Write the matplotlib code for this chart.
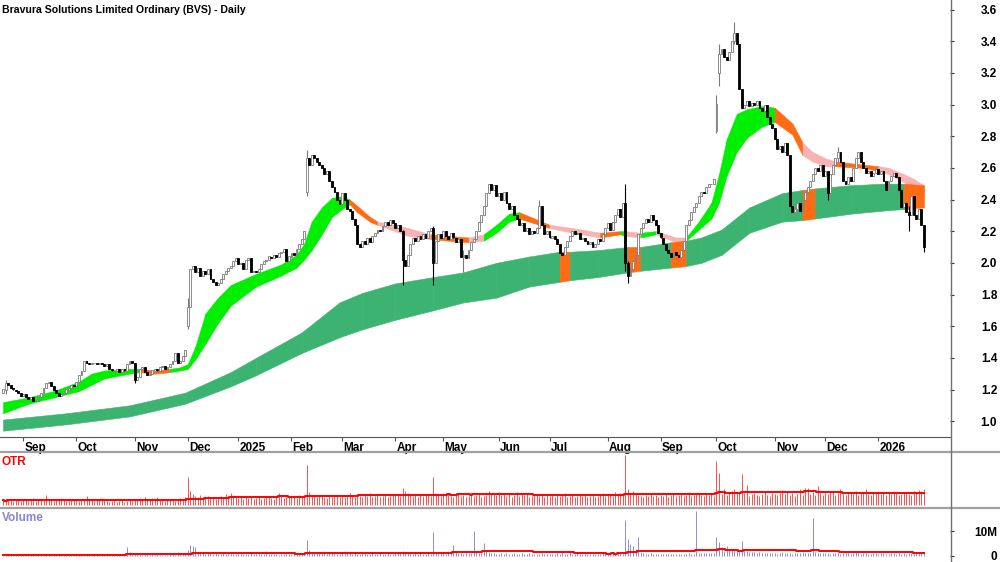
import numpy as np
import pandas as pd
import matplotlib
matplotlib.use("Agg")
import matplotlib.pyplot as plt
from matplotlib.lines import Line2D
from matplotlib.transforms import blended_transform_factory

plt.rcParams['font.family'] = ['Liberation Sans Narrow', 'Liberation Sans', 'DejaVu Sans']
plt.rcParams['font.weight'] = 'bold'

# months on the time axis and trading days in each (first one is a partial month)
months = ["Aug", "Sep", "Oct", "Nov", "Dec", "2025", "Feb", "Mar", "Apr", "May", "Jun",
          "Jul", "Aug", "Sep", "Oct", "Nov", "Dec", "2026"]
month_days = [8, 21, 23, 21, 20, 21, 20, 21, 19, 22, 20, 23, 21, 22, 23, 20, 21, 19]

# daily closes
closes = [
    1.20, 1.24, 1.23, 1.21, 1.20, 1.19, 1.18, 1.16, 1.17, 1.15,
    1.14, 1.15, 1.13, 1.13, 1.15, 1.18, 1.21, 1.24, 1.25, 1.22,
    1.20, 1.18, 1.16, 1.17, 1.18, 1.20, 1.21, 1.23, 1.22, 1.25,
    1.29, 1.32, 1.38, 1.37, 1.36, 1.37, 1.37, 1.36, 1.37, 1.36,
    1.35, 1.36, 1.33, 1.32, 1.32, 1.33, 1.31, 1.33, 1.32, 1.36,
    1.38, 1.37, 1.26, 1.28, 1.33, 1.34, 1.31, 1.29, 1.30, 1.32,
    1.33, 1.32, 1.34, 1.35, 1.33, 1.34, 1.36, 1.38, 1.43, 1.37,
    1.38, 1.41, 1.45, 1.72, 1.96, 1.98, 1.94, 1.97, 1.92, 1.95,
    1.93, 1.96, 1.90, 1.88, 1.86, 1.87, 1.90, 1.93, 1.95, 1.97,
    1.98, 2.01, 2.03, 1.99, 2.00, 1.96, 2.02, 2.03, 1.94, 1.95,
    1.94, 1.96, 1.99, 2.01, 2.02, 2.04, 2.03, 2.05, 2.04, 2.06,
    2.07, 2.09, 2.01, 2.04, 2.06, 2.05, 2.09, 2.12, 2.15, 2.20,
    2.66, 2.62, 2.68, 2.66, 2.64, 2.62, 2.60, 2.56, 2.58, 2.52,
    2.48, 2.45, 2.40, 2.37, 2.44, 2.40, 2.34, 2.33, 2.28, 2.24,
    2.12, 2.10, 2.14, 2.12, 2.16, 2.13, 2.17, 2.19, 2.21, 2.20,
    2.23, 2.26, 2.24, 2.27, 2.25, 2.22, 2.24, 2.20, 2.02, 1.98,
    2.05, 2.12, 2.16, 2.14, 2.17, 2.15, 2.18, 2.16, 2.20, 2.22,
    2.00, 2.14, 2.18, 2.16, 2.20, 2.17, 2.15, 2.19, 2.16, 2.13,
    2.15, 2.04, 2.05, 2.03, 2.08, 2.13, 2.15, 2.20, 2.26, 2.30,
    2.36, 2.44, 2.50, 2.46, 2.49, 2.42, 2.44, 2.40, 2.45, 2.38,
    2.34, 2.36, 2.30, 2.28, 2.24, 2.25, 2.20, 2.22, 2.18, 2.20,
    2.19, 2.22, 2.36, 2.24, 2.18, 2.20, 2.16, 2.17, 2.15, 2.12,
    2.06, 2.05, 2.10, 2.14, 2.17, 2.20, 2.18, 2.19, 2.15, 2.16,
    2.14, 2.12, 2.13, 2.10, 2.12, 2.15, 2.14, 2.18, 2.22, 2.25,
    2.21, 2.26, 2.30, 2.34, 2.29, 2.38, 2.00, 1.92, 1.96, 2.01,
    2.05, 2.18, 2.22, 2.25, 2.28, 2.26, 2.30, 2.27, 2.24, 2.19,
    2.16, 2.12, 2.08, 2.06, 2.04, 2.07, 2.05, 2.04, 2.08, 2.14,
    2.24, 2.27, 2.32, 2.35, 2.38, 2.42, 2.45, 2.44, 2.48, 2.50,
    2.50, 2.53, 3.00, 3.32, 3.35, 3.30, 3.28, 3.33, 3.40, 3.45,
    3.38, 3.10, 2.98, 3.00, 3.02, 2.99, 3.01, 3.00, 3.02, 2.98,
    2.96, 3.00, 2.92, 2.88, 2.85, 2.78, 2.72, 2.74, 2.70, 2.76,
    2.68, 2.36, 2.32, 2.34, 2.38, 2.33, 2.40, 2.45, 2.48, 2.52,
    2.56, 2.60, 2.58, 2.62, 2.55, 2.58, 2.44, 2.56, 2.62, 2.66,
    2.70, 2.64, 2.52, 2.50, 2.54, 2.52, 2.60, 2.66, 2.70, 2.64,
    2.60, 2.57, 2.58, 2.55, 2.57, 2.59, 2.56, 2.58, 2.52, 2.46,
    2.52, 2.55, 2.57, 2.54, 2.46, 2.35, 2.38, 2.32, 2.30, 2.42,
    2.30, 2.28, 2.34, 2.24, 2.10,
]
first_open = 1.18
# opens that gapped away from the previous close
gap_opens = {73: 1.60, 120: 2.45, 282: 2.83, 283: 3.20}
# notable wicks: day -> (high, low)
wicks = {1: (1.26, 1.17), 52: (1.37, 1.24), 73: (1.78, 1.58), 120: (2.71, 2.42),
         158: (2.21, 1.86), 170: (2.23, 1.86), 182: (2.08, 1.94), 212: (2.40, 2.22),
         246: (2.50, 1.95), 247: (2.01, 1.87), 282: (3.06, 2.82), 283: (3.38, 3.12),
         289: (3.52, 3.38), 326: (2.58, 2.40), 330: (2.73, 2.64), 358: (2.36, 2.20),
         364: (2.24, 2.07)}

# fast moving-average band: sample day, upper, lower, colour of the following stretch
fast_idx = [0, 10, 20, 30, 35, 40, 50, 54, 60, 66, 70, 73, 76, 80, 85, 90, 100, 110, 116,
            119, 122, 126, 130, 134, 137, 140, 145, 148, 155, 160, 169, 176, 184, 190, 195,
            200, 204, 210, 216, 225, 236, 244, 246, 252, 258, 266, 270, 275, 280, 283, 286,
            290, 294, 300, 305, 312, 316, 320, 325, 329, 340, 346, 350, 356, 360, 364]
fast_hi = [1.12, 1.15, 1.19, 1.25, 1.30, 1.32, 1.33, 1.33, 1.32, 1.33, 1.34, 1.36, 1.47,
           1.68, 1.78, 1.86, 1.93, 1.99, 2.05, 2.12, 2.26, 2.35, 2.41, 2.42, 2.40, 2.36,
           2.29, 2.26, 2.24, 2.22, 2.18, 2.17, 2.16, 2.18, 2.24, 2.31, 2.32, 2.28, 2.24,
           2.22, 2.19, 2.20, 2.20, 2.19, 2.20, 2.16, 2.16, 2.26, 2.38, 2.56, 2.78, 2.94,
           2.97, 2.99, 2.98, 2.88, 2.76, 2.70, 2.66, 2.64, 2.62, 2.61, 2.60, 2.56, 2.53, 2.49]
fast_lo = [1.05, 1.11, 1.15, 1.19, 1.23, 1.27, 1.30, 1.31, 1.30, 1.31, 1.32, 1.33, 1.39,
           1.49, 1.62, 1.73, 1.85, 1.92, 1.97, 2.02, 2.08, 2.18, 2.29, 2.34, 2.37, 2.32,
           2.26, 2.24, 2.20, 2.17, 2.15, 2.14, 2.13, 2.14, 2.19, 2.26, 2.28, 2.25, 2.22,
           2.19, 2.16, 2.18, 2.17, 2.16, 2.18, 2.13, 2.14, 2.21, 2.28, 2.38, 2.55, 2.70,
           2.79, 2.86, 2.89, 2.81, 2.68, 2.64, 2.61, 2.61, 2.60, 2.58, 2.56, 2.51, 2.46, 2.43]
fast_col = ("gggggggoog" "gggggggggg" "ggggoooppp" "oopgggoopp"
            "ogpgppgggg" "ggggoopppo" "opppp")

# slow moving-average band
slow_idx = [0, 25, 50, 72, 90, 100, 118, 133, 142, 155, 170, 182, 195, 208, 220, 224, 235,
            247, 252, 264, 270, 276, 284, 295, 308, 316, 321, 335, 348, 356, 364]
slow_hi = [1.01, 1.05, 1.10, 1.18, 1.31, 1.40, 1.56, 1.75, 1.81, 1.87, 1.91, 1.94, 2.00,
           2.04, 2.07, 2.07, 2.08, 2.10, 2.10, 2.13, 2.14, 2.16, 2.21, 2.35, 2.44, 2.46,
           2.47, 2.49, 2.50, 2.50, 2.49]
slow_lo = [0.94, 0.98, 1.03, 1.11, 1.22, 1.29, 1.43, 1.53, 1.58, 1.64, 1.70, 1.75, 1.78,
           1.85, 1.88, 1.89, 1.91, 1.94, 1.95, 1.97, 1.98, 2.00, 2.05, 2.19, 2.26, 2.27,
           2.28, 2.31, 2.33, 2.34, 2.35]
slow_col = "gggggggggggggg" "o" "gg" "o" "g" "o" "ggggg" "o" "ggg" "o"

# OTR per day, by month
otr = [
    5, 4, 6, 5, 4, 5, 6, 4,
    5, 6, 4, 5, 7, 4, 5, 6, 5, 10, 6, 5, 4, 6, 5, 7, 5, 4, 6, 5, 6,
    5, 4, 6, 5, 9, 6, 5, 4, 6, 5, 7, 5, 4, 3, 4, 5, 3, 4, 5, 3, 4, 5, 4,
    5, 6, 7, 6, 8, 5, 6, 7, 5, 8, 6, 5, 4, 5, 6, 5, 4, 5, 7, 6, 8,
    28, 14, 11, 9, 8, 10, 7, 8, 9, 7, 8, 6, 7, 9, 8, 11, 7, 12, 10, 8,
    7, 8, 6, 9, 7, 8, 6, 7, 8, 6, 7, 8, 9, 7, 6, 8, 12, 9, 7, 8, 9,
    8, 9, 7, 10, 8, 9, 40, 13, 10, 9, 8, 10, 9, 8, 7, 9, 8, 10, 9, 8,
    9, 8, 10, 12, 9, 8, 11, 9, 8, 10, 9, 12, 8, 9, 10, 8, 9, 11, 8, 9, 10,
    10, 11, 9, 17, 14, 12, 10, 9, 11, 8, 10, 9, 11, 10, 9, 28, 12, 10, 9,
    11, 10, 12, 9, 8, 10, 12, 9, 10, 8, 9, 11, 9, 10, 12, 8, 9, 10, 14, 12, 11, 10,
    13, 10, 11, 9, 12, 8, 10, 13, 9, 11, 10, 12, 8, 9, 10, 11, 9, 10, 8, 10,
    9, 10, 8, 11, 9, 10, 12, 8, 9, 10, 8, 9, 11, 9, 10, 8, 9, 10, 8, 9, 10, 12, 9,
    10, 11, 9, 13, 11, 12, 10, 50, 16, 11, 14, 12, 10, 9, 8, 10, 9, 11, 9, 10, 8,
    10, 9, 11, 8, 10, 12, 9, 10, 11, 9, 10, 13, 9, 10, 11, 12, 10, 9, 11, 10, 12, 9,
    44, 32, 11, 16, 10, 12, 14, 16, 13, 12, 31, 12, 20, 9, 11, 12, 10, 9, 11, 13, 10, 9, 12,
    11, 10, 12, 15, 11, 13, 10, 12, 9, 11, 16, 10, 17, 17, 11, 13, 10, 19, 12, 10,
    12, 11, 14, 13, 10, 12, 16, 11, 10, 13, 12, 11, 14, 10, 12, 13, 16, 11, 10, 12, 13,
    12, 11, 13, 10, 12, 11, 14, 12, 10, 11, 13, 12, 11, 10, 14, 13, 15, 14, 16,
]

# volume per day in millions, by month
volume = [
    0.6, 0.5, 0.7, 0.4, 0.5, 0.6, 0.5, 0.4,
    0.5, 0.6, 0.4, 0.5, 0.7, 0.4, 0.5, 0.6, 0.5, 0.8, 0.6, 0.5, 0.4, 0.6, 0.5, 0.7, 0.5, 0.4, 0.6, 0.5, 0.6,
    0.5, 0.4, 0.6, 0.8, 0.9, 0.6, 0.5, 0.7, 0.6, 0.8, 0.7, 0.5, 0.6, 0.4, 0.5, 0.6, 0.4, 0.5, 0.6, 0.4, 3.6, 1.5, 1.0,
    0.9, 0.8, 0.7, 0.6, 0.8, 0.7, 0.6, 0.7, 0.5, 0.8, 0.6, 0.5, 0.6, 0.5, 0.7, 0.9, 0.6, 1.8, 1.2, 0.9, 1.4,
    2.5, 4.4, 4.0, 3.5, 1.5, 1.2, 1.4, 1.0, 1.3, 1.1, 0.9, 1.2, 1.0, 0.8, 1.1, 0.9, 0.8, 1.0, 0.7, 0.9,
    0.8, 1.0, 0.7, 0.9, 0.8, 1.1, 0.7, 0.8, 0.9, 0.7, 0.8, 2.2, 0.9, 0.7, 0.8, 0.9, 0.6, 0.8, 0.7, 1.0, 0.9,
    1.0, 1.2, 0.9, 1.1, 0.8, 1.0, 6.4, 2.4, 1.6, 1.3, 1.1, 1.5, 1.2, 1.9, 1.0, 1.2, 1.4, 1.1, 1.0, 0.9,
    1.1, 1.9, 1.7, 1.2, 1.0, 1.1, 0.9, 1.0, 1.3, 1.1, 0.8, 1.0, 1.2, 0.9, 1.0, 1.1, 0.8, 1.0, 1.2, 0.9, 1.0,
    1.3, 1.1, 1.6, 2.2, 1.8, 1.4, 1.2, 1.0, 1.1, 0.9, 1.2, 1.0, 0.9, 1.1, 1.0, 9.6, 1.8, 1.3, 1.1,
    1.2, 1.0, 1.1, 1.3, 4.4, 1.5, 1.1, 1.2, 1.0, 1.1, 1.3, 1.2, 10.0, 2.2, 1.4, 1.2, 5.2, 2.0, 1.6, 1.3, 1.1, 1.0,
    1.0, 1.1, 0.9, 1.2, 1.0, 0.8, 1.1, 0.9, 1.0, 1.2, 0.9, 1.0, 1.1, 0.9, 0.8, 1.0, 0.9, 1.1, 1.0, 0.9,
    0.9, 1.0, 0.8, 1.1, 0.9, 2.2, 1.0, 0.8, 1.6, 1.0, 0.9, 1.1, 0.8, 0.9, 1.0, 0.8, 0.9, 1.0, 0.8, 0.9, 1.0, 1.1, 0.9,
    1.0, 0.9, 1.1, 0.8, 1.6, 1.2, 1.0, 14.4, 7.0, 5.0, 4.0, 3.0, 7.6, 1.8, 1.2, 1.0, 0.9, 1.1, 0.8, 0.9, 1.0,
    0.9, 0.8, 1.0, 0.9, 0.8, 1.0, 0.7, 0.9, 1.0, 0.8, 0.9, 1.1, 0.9, 1.0, 18.0, 1.4, 1.1, 1.3, 1.2, 1.4, 1.1, 1.3,
    7.6, 5.5, 3.5, 2.2, 4.0, 2.4, 3.0, 2.6, 2.0, 2.4, 6.0, 2.8, 2.0, 1.6, 1.8, 1.5, 1.3, 1.6, 1.2, 1.4, 1.1, 1.3, 1.2,
    1.2, 1.0, 1.3, 1.6, 1.1, 1.2, 1.4, 1.0, 1.2, 1.1, 1.3, 1.5, 1.2, 1.4, 1.1, 15.2, 1.6, 1.3, 1.1, 1.2,
    1.1, 1.3, 1.0, 1.2, 1.4, 1.1, 1.0, 1.2, 1.3, 1.1, 1.0, 1.2, 1.8, 1.1, 1.0, 1.2, 1.1, 0.9, 1.0, 1.1, 1.2,
    1.0, 1.2, 1.1, 0.9, 1.0, 1.3, 1.1, 1.0, 1.2, 0.9, 1.1, 1.0, 1.2, 1.1, 1.0, 1.3, 1.2, 1.1, 1.8,
]

band_colors = {"g": "#00ee00", "o": "#ff6a14", "p": "#f7b3b3", "s": "#3cb371"}

# ---- candles
closes = np.array(closes)
days = np.arange(len(closes))
opens = np.r_[first_open, closes[:-1]]
for d, v in gap_opens.items():
    opens[d] = v
highs = np.maximum(opens, closes)
lows = np.minimum(opens, closes)
for d, (h, l) in wicks.items():
    highs[d] = h
    lows[d] = l
up = closes >= opens

fig = plt.figure(figsize=(10, 5.62), dpi=100)
W = 1000.0
H = 562.0
ax = fig.add_axes([0, 1 - 437 / H, 950 / W, 437 / H])
ax_otr = fig.add_axes([0, 1 - 508 / H, 950 / W, 55 / H])
ax_vol = fig.add_axes([0, 0, 950 / W, 53 / H])
xlim = (-1.2, 374.3)

# bands
for k in range(len(fast_idx) - 1):
    c = band_colors[fast_col[k]]
    ax.fill_between(fast_idx[k:k + 2], fast_lo[k:k + 2], fast_hi[k:k + 2],
                    color=c, lw=0.4, zorder=1)
for k in range(len(slow_idx) - 1):
    c = band_colors["s"] if slow_col[k] == "g" else band_colors["o"]
    ax.fill_between(slow_idx[k:k + 2], slow_lo[k:k + 2], slow_hi[k:k + 2],
                    color=c, lw=0.4, zorder=1)

ax.vlines(days[up], lows[up], highs[up], color="#7a7a7a", lw=0.8, zorder=2)
ax.vlines(days[~up], lows[~up], highs[~up], color="black", lw=0.8, zorder=2)
ax.bar(days[up], (closes - opens)[up], bottom=opens[up], width=0.75,
       color="white", edgecolor="#7a7a7a", lw=0.6, zorder=3)
ax.bar(days[~up], (closes - opens)[~up], bottom=opens[~up], width=0.75,
       color="black", edgecolor="black", lw=0.6, zorder=3)

ax.set_xlim(*xlim)
ax.set_ylim(0.9, 3.66)
ax.yaxis.tick_right()
ax.set_yticks(np.arange(1.0, 3.61, 0.2))
ax.set_yticklabels([f"{v:.1f}" for v in np.arange(1.0, 3.61, 0.2)])
ax.tick_params(axis="y", direction="out", length=3, pad=31, labelsize=8.5, colors="#333333",
               labelcolor="black")
for lab in ax.get_yticklabels():
    lab.set_horizontalalignment("right")
for s in ["left", "top", "right"]:
    ax.spines[s].set_visible(False)
ax.spines["bottom"].set_color("#555555")
ax.spines["bottom"].set_linewidth(0.8)

starts = np.cumsum([0] + month_days[:-1])
ax.set_xticks(starts[1:])
ax.set_xticklabels([])
ax.tick_params(axis="x", direction="out", length=3, color="#555555")
tr = blended_transform_factory(ax.transData, ax.transAxes)
for name, s in zip(months[1:], starts[1:]):
    ax.text(s + 0.5, -0.026, name, transform=tr, ha="left", va="center", fontsize=8.5)

fig.text(2 / W, 1 - 10 / H, "Bravura Solutions Limited Ordinary (BVS) - Daily",
         ha="left", va="center", fontsize=7.6)

# ---- OTR panel
otr = np.array(otr, dtype=float)
otr_ma = pd.Series(otr).rolling(40, min_periods=1).mean()
ax_otr.vlines(days, 0, otr, color="#ff3030", lw=0.7, alpha=0.85, zorder=2)
ax_otr.plot(days, otr_ma, drawstyle="steps-mid", color="#ff0000", lw=1.4, zorder=3)
ax_otr.set_xlim(*xlim)
ax_otr.set_ylim(-3, 52)
ax_otr.axis("off")
ax_otr.text(0.002, 0.84, "OTR", color="#ff0000", transform=ax_otr.transAxes,
            ha="left", va="center", fontsize=8.5)

# ---- volume panel
volume = np.array(volume)
vol_ma = pd.Series(volume).rolling(40, min_periods=1).mean()
ax_vol.vlines(days, 0, volume, color="#8080cc", lw=0.7, alpha=0.9, zorder=2)
ax_vol.plot(days, vol_ma, drawstyle="steps-mid", color="#ff0000", lw=1.4, zorder=3)
ax_vol.set_xlim(*xlim)
ax_vol.set_ylim(-2.4, 18.8)
for s in ["left", "top", "right", "bottom"]:
    ax_vol.spines[s].set_visible(False)
ax_vol.set_xticks([])
ax_vol.yaxis.tick_right()
ax_vol.set_yticks([0, 10])
ax_vol.set_yticklabels(["0", "10M"])
ax_vol.tick_params(axis="y", direction="out", length=3, pad=31, labelsize=8.5, colors="#333333",
                   labelcolor="black")
for lab in ax_vol.get_yticklabels():
    lab.set_horizontalalignment("right")
ax_vol.text(0.002, 0.83, "Volume", color="#8888cc", transform=ax_vol.transAxes,
            ha="left", va="center", fontsize=8.5)

# separators and right axis line
for yy in (452, 508):
    fig.add_artist(Line2D([0, 1], [1 - yy / H] * 2, color="#a0a0a0", lw=1.6))
fig.add_artist(Line2D([951 / W, 951 / W], [0, 1], color="#707070", lw=1.0))

fig.savefig("out.png", dpi=100)
